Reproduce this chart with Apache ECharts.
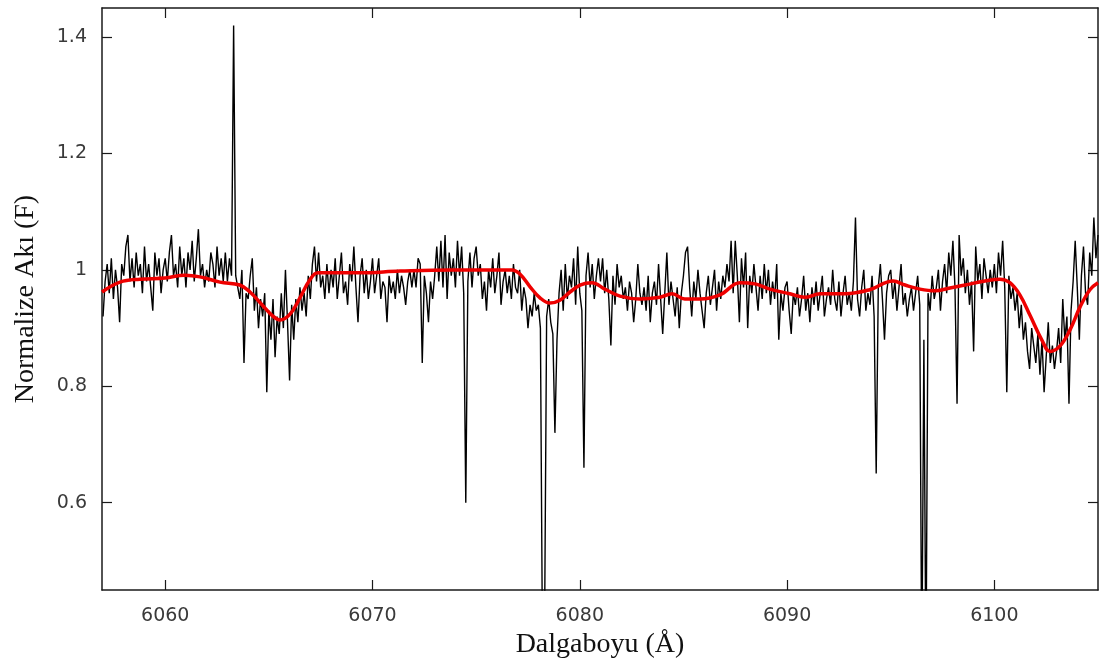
<!DOCTYPE html>
<html>
<head>
<meta charset="utf-8">
<script src="https://cdn.jsdelivr.net/npm/echarts@6/dist/echarts.min.js"></script>
<style>
html,body{margin:0;padding:0;background:#fff;}
#chart{width:1100px;height:664px;}
</style>
</head>
<body>
<div id="chart"></div>
<script>
// Observed normalized flux, one row per Angstrom, sampled every 0.1 A (row key = start wavelength)
const fluxRowStarts = [6057,6058,6059,6060,6061,6062,6063,6064,6065,6066,6067,6068,6069,6070,6071,6072,6073,6074,6075,6076,6077,6078,6079,6080,6081,6082,6083,6084,6085,6086,6087,6088,6089,6090,6091,6092,6093,6094,6095,6096,6097,6098,6099,6100,6101,6102,6103,6104];
const fluxRows = [
  [0.92,0.98,1.01,0.96,1.02,0.95,1.00,0.97,0.91,1.01],
  [0.99,1.04,1.06,0.98,1.02,0.97,1.03,0.99,1.01,0.96],
  [1.04,0.98,1.01,0.97,0.93,1.03,0.99,1.02,0.96,1.00],
  [1.02,0.98,1.03,1.06,0.99,1.01,0.97,1.04,0.99,1.02],
  [0.97,1.03,1.00,1.05,0.98,1.02,1.07,0.99,1.01,0.97],
  [1.00,0.98,1.03,1.01,0.97,1.04,0.99,1.02,0.98,1.03],
  [0.98,1.02,0.99,1.42,0.99,0.97,0.95,1.00,0.84,0.96],
  [0.95,0.99,1.02,0.93,0.97,0.90,0.95,0.92,0.96,0.79],
  [0.93,0.88,0.95,0.85,0.92,0.89,0.96,0.90,1.00,0.91],
  [0.81,0.94,0.88,0.95,0.91,0.97,0.93,0.96,0.92,0.99],
  [0.95,1.01,1.04,0.98,1.03,0.97,0.99,0.95,1.01,0.96],
  [1.00,0.97,1.02,0.95,0.99,1.03,0.96,0.98,0.94,1.01],
  [0.98,1.04,0.97,0.91,0.99,1.02,0.96,1.00,0.95,0.98],
  [1.02,0.96,0.99,1.02,0.95,0.98,0.97,0.91,0.99,0.96],
  [0.98,0.95,1.00,0.96,0.99,0.97,0.94,0.98,1.00,0.97],
  [1.00,0.97,1.02,1.01,0.84,0.99,0.96,0.91,0.98,0.95],
  [0.99,1.04,0.98,1.05,0.97,1.06,0.95,1.03,0.99,1.02],
  [0.97,1.05,0.99,1.04,0.96,0.60,0.98,1.03,0.97,1.02],
  [1.04,0.99,1.01,0.95,0.98,0.93,1.00,0.97,1.02,0.96],
  [0.99,1.03,0.94,0.98,1.00,0.96,0.99,0.95,1.01,0.97],
  [0.96,1.00,0.93,0.97,0.95,0.90,0.94,0.92,0.96,0.93],
  [0.94,0.90,0.35,0.38,0.92,0.95,0.91,0.89,0.72,0.88],
  [0.96,1.00,0.93,1.01,0.95,0.99,0.97,1.02,0.94,1.04],
  [0.96,0.93,0.66,0.99,1.03,0.97,1.01,0.95,0.99,1.02],
  [0.98,1.02,0.96,1.00,0.95,0.87,0.99,0.94,1.01,0.97],
  [0.99,0.95,0.97,0.93,0.98,0.96,0.91,0.95,1.01,0.96],
  [0.94,0.97,0.93,0.99,0.91,0.96,0.98,0.94,1.01,0.95],
  [0.89,0.96,1.03,0.94,0.98,0.95,0.92,0.97,0.90,0.96],
  [0.99,1.03,1.04,0.97,0.92,0.98,0.95,1.00,0.96,0.93],
  [0.90,0.96,0.99,0.94,0.97,1.00,0.93,0.98,0.95,0.99],
  [0.97,1.01,0.98,1.05,0.96,1.05,0.99,0.91,1.02,0.97],
  [1.03,0.90,0.99,0.96,1.01,0.97,0.93,0.99,0.95,1.01],
  [0.96,1.00,0.94,0.98,0.95,1.01,0.88,0.96,0.93,0.97],
  [0.98,0.93,0.89,0.96,0.94,0.97,0.92,0.95,0.99,0.93],
  [0.96,0.91,0.97,0.94,0.98,0.93,0.96,0.99,0.92,0.95],
  [0.97,0.94,1.00,0.95,0.93,0.98,0.92,0.96,0.99,0.94],
  [0.96,0.93,0.98,1.09,0.95,0.92,0.97,1.00,0.93,0.96],
  [0.94,0.99,0.92,0.65,0.97,1.01,0.95,0.88,0.96,0.99],
  [1.00,0.95,0.98,0.93,0.97,1.01,0.94,0.96,0.92,0.95],
  [0.97,0.93,0.96,0.99,0.94,0.30,0.88,0.30,0.96,0.93],
  [0.99,0.95,0.97,1.00,0.93,0.98,1.01,0.96,1.03,0.99],
  [1.05,0.97,0.77,1.06,0.99,1.02,0.96,1.00,0.94,0.98],
  [0.86,1.04,0.98,1.01,0.95,1.02,0.99,0.96,1.00,0.97],
  [1.01,0.96,1.03,0.99,1.05,0.97,0.79,0.99,0.95,0.97],
  [0.93,0.96,0.90,0.94,0.88,0.91,0.86,0.83,0.90,0.87],
  [0.84,0.89,0.82,0.88,0.79,0.85,0.91,0.84,0.87,0.83],
  [0.86,0.90,0.84,0.95,0.88,0.92,0.77,0.93,0.98,1.05],
  [0.97,0.88,0.99,1.04,0.96,0.94,1.03,0.99,1.09,1.02]
];
const fluxLastPoint = [6105.0, 1.06];
const fluxStep = 0.1;

// Continuum fit (red), wavelength / flux
const fitWave = [6056.95,6057.82,6058.78,6059.99,6060.95,6061.68,6062.64,6063.60,6064.09,6064.67,6065.15,6065.54,6066.02,6066.50,6066.98,6067.37,6069.40,6071.33,6073.74,6076.73,6077.11,6077.60,6078.08,6078.56,6079.04,6079.53,6080.01,6080.59,6081.21,6081.94,6082.90,6083.87,6084.45,6085.07,6085.80,6086.76,6087.73,6088.45,6089.17,6090.14,6090.86,6091.59,6092.79,6093.99,6095.11,6095.69,6096.41,6097.13,6097.86,6098.58,6099.55,6100.27,6100.75,6101.23,6101.72,6102.30,6102.68,6103.16,6103.65,6104.13,6104.61,6105.00];
const fitFlux = [0.962,0.979,0.984,0.986,0.991,0.988,0.979,0.974,0.962,0.940,0.922,0.914,0.924,0.952,0.983,0.995,0.995,0.998,1.000,1.000,0.993,0.971,0.952,0.943,0.948,0.962,0.974,0.978,0.967,0.955,0.950,0.953,0.959,0.950,0.950,0.957,0.978,0.976,0.967,0.959,0.953,0.959,0.959,0.966,0.981,0.974,0.967,0.964,0.969,0.974,0.981,0.984,0.978,0.957,0.922,0.879,0.860,0.869,0.897,0.936,0.966,0.978];

const xTicks = [6060, 6070, 6080, 6090, 6100];
const yTicks = [0.6, 0.8, 1, 1.2, 1.4];
const xRange = [6056.95, 6105.0];
const yRange = [0.45, 1.45];

const spectrum = [];
fluxRows.forEach((row, r) => {
  row.forEach((v, j) => {
    spectrum.push([+(fluxRowStarts[r] + j * fluxStep).toFixed(2), v]);
  });
});
spectrum.push(fluxLastPoint);
const fit = fitWave.map((w, i) => [w, fitFlux[i]]);

const axisColor = '#1a1a1a';
const labelFont = { fontFamily: 'DejaVu Sans', fontSize: 19, color: '#3a3a3a' };

const chart = echarts.init(document.getElementById('chart'), null, { renderer: 'canvas' });
chart.setOption({
  animation: false,
  backgroundColor: '#fff',
  grid: { left: 102, right: 2, top: 8, bottom: 74, containLabel: false },
  xAxis: [
    {
      type: 'value', position: 'bottom', min: xRange[0], max: xRange[1],
      name: 'Dalgaboyu (Å)', nameLocation: 'middle', nameGap: 41,
      nameTextStyle: { fontFamily: 'Liberation Serif', fontSize: 28, color: '#111' },
      axisLine: { show: true, lineStyle: { color: axisColor, width: 1.5 } },
      axisTick: { show: true, inside: true, length: 10, customValues: xTicks, lineStyle: { color: axisColor, width: 1.2 } },
      axisLabel: Object.assign({ show: true, margin: 17, customValues: xTicks, formatter: v => String(v) }, labelFont),
      splitLine: { show: false }
    },
    {
      type: 'value', position: 'top', min: xRange[0], max: xRange[1],
      axisLine: { show: true, lineStyle: { color: axisColor, width: 1.5 } },
      axisTick: { show: true, inside: true, length: 10, customValues: xTicks, lineStyle: { color: axisColor, width: 1.2 } },
      axisLabel: { show: false },
      splitLine: { show: false }
    }
  ],
  yAxis: [
    {
      type: 'value', position: 'left', min: yRange[0], max: yRange[1],
      name: 'Normalize Akı (F)', nameLocation: 'middle', nameGap: 62, nameRotate: 90,
      nameTextStyle: { fontFamily: 'Liberation Serif', fontSize: 28, color: '#111' },
      axisLine: { show: true, lineStyle: { color: axisColor, width: 1.5 } },
      axisTick: { show: true, inside: true, length: 10, customValues: yTicks, lineStyle: { color: axisColor, width: 1.2 } },
      axisLabel: Object.assign({ show: true, margin: 15, customValues: yTicks, formatter: v => String(v) }, labelFont),
      splitLine: { show: false }
    },
    {
      type: 'value', position: 'right', min: yRange[0], max: yRange[1],
      axisLine: { show: true, lineStyle: { color: axisColor, width: 1.5 } },
      axisTick: { show: true, inside: true, length: 10, customValues: yTicks, lineStyle: { color: axisColor, width: 1.2 } },
      axisLabel: { show: false },
      splitLine: { show: false }
    }
  ],
  series: [
    {
      name: 'Spektrum', type: 'line', xAxisIndex: 0, yAxisIndex: 0,
      data: spectrum, showSymbol: false, symbol: 'none', clip: true,
      lineStyle: { color: '#000', width: 1.4 }, z: 2
    },
    {
      name: 'Süreklilik', type: 'line', xAxisIndex: 0, yAxisIndex: 0,
      data: fit, showSymbol: false, symbol: 'none', smooth: 0.4, clip: true,
      lineStyle: { color: '#ee0000', width: 3.5 }, z: 3
    }
  ]
});
</script>
</body>
</html>
